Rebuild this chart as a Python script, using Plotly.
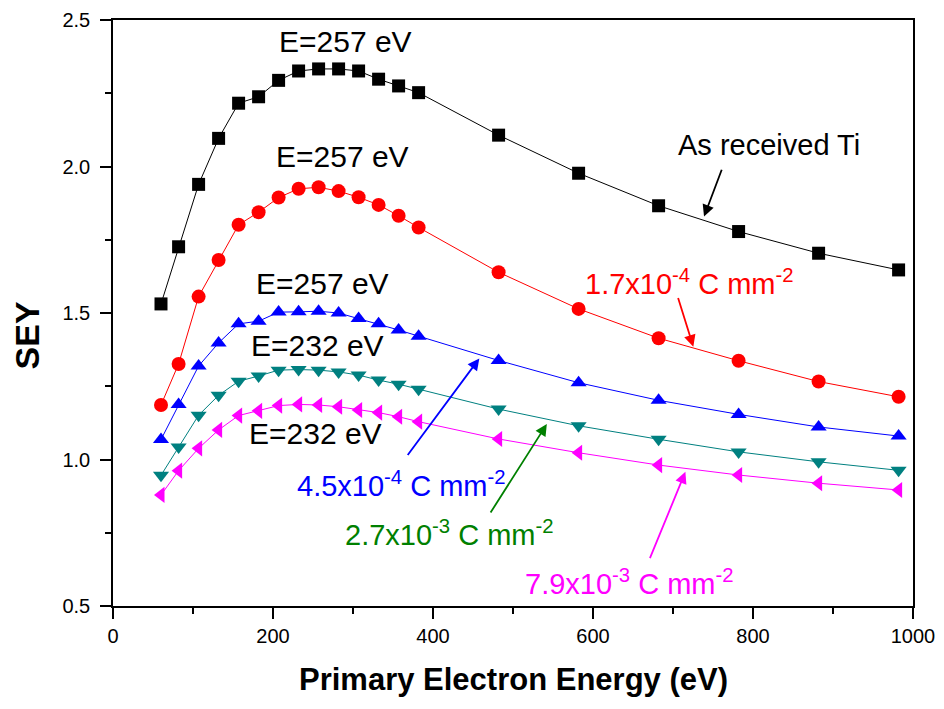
import plotly.graph_objects as go

# ---- data ----
energy = [60, 82, 107, 132, 157, 182, 207, 232, 257, 282, 307, 332, 357, 382,
          482, 582, 682, 782, 882, 982]

sey_as_received = [1.531, 1.726, 1.939, 2.096, 2.216, 2.238, 2.294, 2.326, 2.333, 2.333,
                   2.326, 2.298, 2.275, 2.252, 2.107, 1.977, 1.866, 1.778, 1.704, 1.647]
sey_1p7e4 = [1.186, 1.326, 1.556, 1.681, 1.801, 1.844, 1.894, 1.924, 1.929, 1.916,
             1.895, 1.869, 1.832, 1.792, 1.639, 1.514, 1.414, 1.337, 1.266, 1.214]
sey_4p5e4 = [1.068, 1.188, 1.319, 1.398, 1.463, 1.472, 1.503, 1.504, 1.506, 1.500,
             1.481, 1.463, 1.442, 1.421, 1.338, 1.262, 1.202, 1.154, 1.111, 1.080]
sey_2p7e3 = [0.946, 1.043, 1.151, 1.219, 1.267, 1.285, 1.305, 1.307, 1.305, 1.299,
             1.288, 1.271, 1.257, 1.240, 1.172, 1.115, 1.069, 1.026, 0.992, 0.963]
sey_7p9e3 = [0.879, 0.962, 1.038, 1.101, 1.150, 1.166, 1.184, 1.188, 1.186, 1.180,
             1.169, 1.160, 1.146, 1.129, 1.070, 1.023, 0.981, 0.947, 0.919, 0.896]

series_names = ["As received Ti", "1.7x10-4 C mm-2", "4.5x10-4 C mm-2",
                "2.7x10-3 C mm-2", "7.9x10-3 C mm-2"]
series_values = [sey_as_received, sey_1p7e4, sey_4p5e4, sey_2p7e3, sey_7p9e3]
series_colors = ["#000000", "#FF0000", "#0000FF", "#008080", "#FF00FF"]
series_symbols = ["square", "circle", "triangle-up", "triangle-down", "triangle-left"]
series_sizes = [13, 14, 14, 14, 14]

x_ticks = [0, 200, 400, 600, 800, 1000]
y_ticks = [0.5, 1.0, 1.5, 2.0, 2.5]

# peak labels: (text, x, y)
peak_labels = [("E=257 eV", 291, 2.427), ("E=257 eV", 287, 2.034),
               ("E=257 eV", 262, 1.602), ("E=232 eV", 255, 1.389),
               ("E=232 eV", 253, 1.090)]

# dose labels: (text, color, text x, text y, arrow tail x, tail y, head x, head y)
dose_labels = [
    ("As received Ti", "#000000", 820, 2.073, 761.6, 1.994, 738.8, 1.829),
    ("1.7x10<sup>-4</sup> C mm<sup>-2</sup>", "#FF0000", 721, 1.606, 705.8, 1.556, 725.4, 1.385),
    ("4.5x10<sup>-4</sup> C mm<sup>-2</sup>", "#0000FF", 360, 0.916, 367, 1.010, 457.9, 1.345),
    ("2.7x10<sup>-3</sup> C mm<sup>-2</sup>", "#008000", 421, 0.749, 470.8, 0.814, 542.3, 1.121),
    ("7.9x10<sup>-3</sup> C mm<sup>-2</sup>", "#FF00FF", 646, 0.582, 670.4, 0.658, 715.5, 0.958),
]

FONT = "Liberation Sans, Arial, sans-serif"

fig = go.Figure()
for name, vals, col, sym, sz in zip(series_names, series_values, series_colors,
                                     series_symbols, series_sizes):
    fig.add_trace(go.Scatter(
        x=energy, y=vals, name=name, mode="lines+markers",
        line=dict(color=col, width=1),
        marker=dict(symbol=sym, size=sz, color=col, line=dict(width=0)),
        showlegend=False,
    ))

annotations = []
for txt, x, y in peak_labels:
    annotations.append(dict(x=x, y=y, xref="x", yref="y", text=txt, showarrow=False,
                            font=dict(family=FONT, size=30, color="#000000"),
                            xanchor="center", yanchor="middle"))
for txt, col, tx, ty, ax, ay, hx, hy in dose_labels:
    annotations.append(dict(x=tx, y=ty, xref="x", yref="y", text=txt, showarrow=False,
                            font=dict(family=FONT, size=29, color=col),
                            xanchor="center", yanchor="middle"))
    annotations.append(dict(x=hx, y=hy, xref="x", yref="y", ax=ax, ay=ay,
                            axref="x", ayref="y", text="", showarrow=True,
                            arrowhead=2, arrowsize=1.3, arrowwidth=1.8,
                            arrowcolor=col, standoff=0, startstandoff=0))

# axis titles
annotations.append(dict(x=0.5, y=-0.1246, xref="paper", yref="paper",
                        text="<b>Primary Electron Energy (eV)</b>", showarrow=False,
                        font=dict(family=FONT, size=31, color="#000000"),
                        xanchor="center", yanchor="middle"))
annotations.append(dict(x=-0.108, y=0.461, xref="paper", yref="paper",
                        text="<b>SEY</b>", showarrow=False, textangle=-90,
                        font=dict(family=FONT, size=34, color="#000000"),
                        xanchor="center", yanchor="middle"))

axis_common = dict(showgrid=False, zeroline=False, showline=True, linecolor="#000000",
                   linewidth=1.6, mirror=True, ticks="outside", ticklen=11,
                   tickwidth=1.6, tickcolor="#000000", automargin=False,
                   ticklabeloverflow="allow",
                   tickfont=dict(family=FONT, size=20, color="#000000"))

# page body has an 8px default margin, so the figure is sized/offset to compensate
fig.update_layout(
    width=928, height=693, autosize=False,
    margin=dict(l=105, r=23, t=12, b=95),
    plot_bgcolor="#FFFFFF", paper_bgcolor="#FFFFFF",
    xaxis=dict(range=[0, 1000], tickvals=x_ticks,
               minor=dict(dtick=100, ticks="outside", ticklen=6, tickwidth=1.6,
                          tickcolor="#000000", showgrid=False),
               **axis_common),
    yaxis=dict(range=[0.5, 2.5], tickvals=y_ticks, tickformat=".1f",
               ticklabelstandoff=6,
               minor=dict(dtick=0.25, ticks="outside", ticklen=6, tickwidth=1.6,
                          tickcolor="#000000", showgrid=False),
               **axis_common),
    annotations=annotations,
    showlegend=False,
)

fig.write_html("out.html")
